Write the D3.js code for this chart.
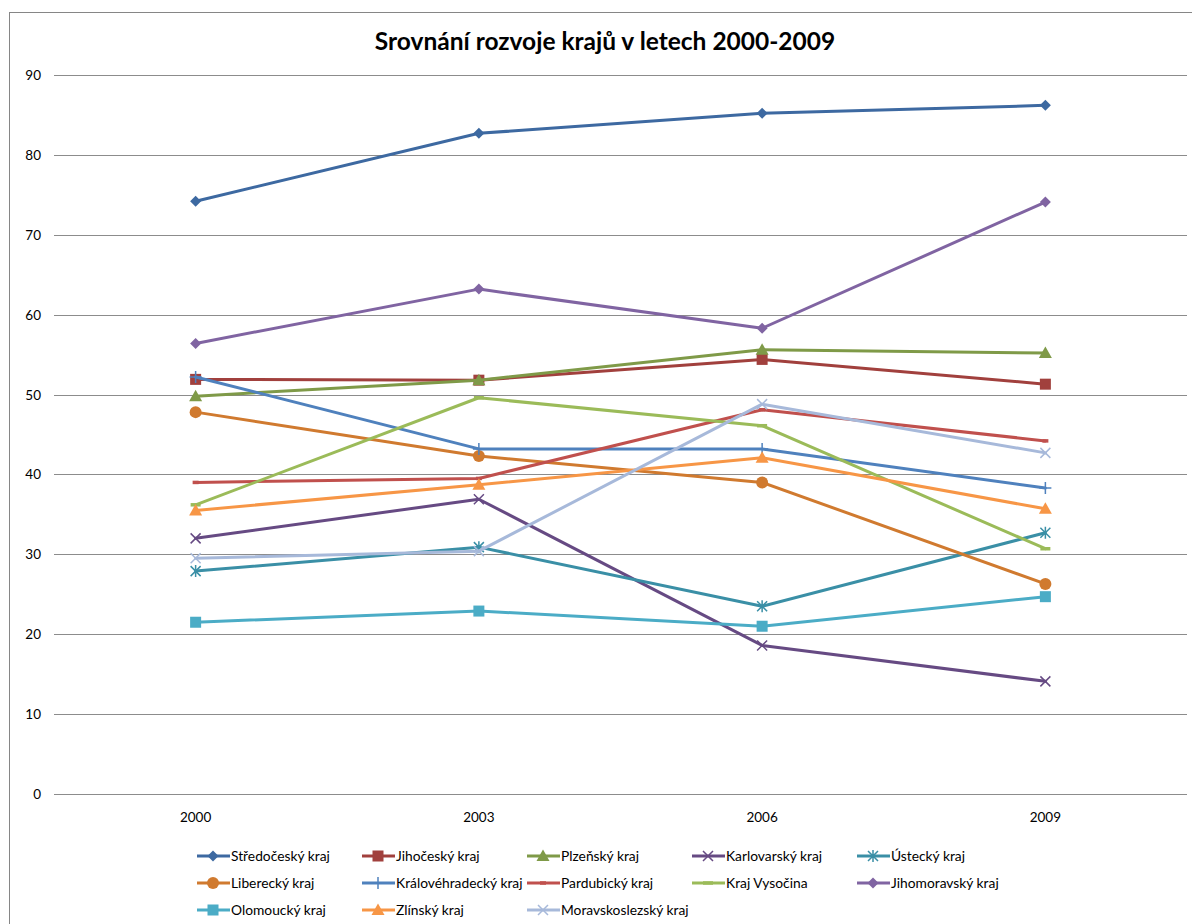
<!DOCTYPE html>
<html>
<head>
<meta charset="utf-8">
<script src="https://cdn.jsdelivr.net/npm/d3@7.9.0/dist/d3.min.js"></script>
<style>
  body { margin: 0; background: #fff; }
  svg { font-family: Lato, "Open Sans", sans-serif; }
</style>
</head>
<body>
<svg id="chart" width="1192" height="924"></svg>
<script>
const years = ['2000', '2003', '2006', '2009'];
const regions = ['Středočeský kraj', 'Jihočeský kraj', 'Plzeňský kraj', 'Karlovarský kraj', 'Ústecký kraj',
  'Liberecký kraj', 'Královéhradecký kraj', 'Pardubický kraj', 'Kraj Vysočina', 'Jihomoravský kraj',
  'Olomoucký kraj', 'Zlínský kraj', 'Moravskoslezský kraj'];
const stredocesky = [74.2, 82.7, 85.2, 86.2];
const jihocesky = [51.9, 51.8, 54.4, 51.3];
const plzensky = [49.8, 51.8, 55.6, 55.2];
const karlovarsky = [32.0, 36.9, 18.6, 14.1];
const ustecky = [27.9, 30.9, 23.5, 32.7];
const liberecky = [47.8, 42.3, 39.0, 26.3];
const kralovehradecky = [52.2, 43.2, 43.2, 38.3];
const pardubicky = [39.0, 39.5, 48.1, 44.2];
const vysocina = [36.2, 49.6, 46.1, 30.7];
const jihomoravsky = [56.4, 63.2, 58.3, 74.1];
const olomoucky = [21.5, 22.9, 21.0, 24.7];
const zlinsky = [35.5, 38.7, 42.1, 35.7];
const moravskoslezsky = [29.5, 30.4, 48.8, 42.7];
const yTicks = [0, 10, 20, 30, 40, 50, 60, 70, 80, 90];

const values = [stredocesky, jihocesky, plzensky, karlovarsky, ustecky, liberecky,
  kralovehradecky, pardubicky, vysocina, jihomoravsky, olomoucky, zlinsky, moravskoslezsky];
const colors = ['#3d69a1', '#a1403d', '#7f9a48', '#664a83', '#3a8fa6', '#d07a2f',
  '#4f81bd', '#c0504d', '#9bbb59', '#8064a2', '#4bacc6', '#f79646', '#a7b9da'];
const markers = ['diamond', 'square', 'triangle', 'x', 'star', 'circle',
  'plus', 'dash', 'longdash', 'diamond', 'square', 'triangle', 'x'];

const svg = d3.select('#chart');

// outer chart border
svg.append('rect').attr('x', 9.5).attr('y', 12.5).attr('width', 1200).attr('height', 1000)
  .attr('fill', 'none').attr('stroke', '#868686').attr('stroke-width', 1);

const x = d3.scaleBand().domain(years).range([54, 1187]);
const y = d3.scaleLinear().domain([0, 90]).range([794, 75]);

// gridlines
svg.append('g').selectAll('line').data(yTicks).join('line')
  .attr('x1', 54).attr('x2', 1187)
  .attr('y1', d => Math.round(y(d)) + 0.5).attr('y2', d => Math.round(y(d)) + 0.5)
  .attr('stroke', '#8c8c8c').attr('stroke-width', 1.2);

svg.append('g').selectAll('text').data(yTicks).join('text')
  .attr('x', 41).attr('y', d => y(d) + 5)
  .attr('text-anchor', 'end').attr('font-size', 13.5).attr('fill', '#000')
  .text(d => d);

svg.append('g').selectAll('text').data(years).join('text')
  .attr('x', d => x(d) + x.bandwidth() / 2).attr('y', 822)
  .attr('text-anchor', 'middle').attr('font-size', 13.5).attr('fill', '#000')
  .text(d => d);

svg.append('text').attr('x', 605).attr('y', 50).attr('text-anchor', 'middle')
  .attr('font-size', 24.5).attr('font-weight', 'bold').attr('fill', '#000')
  .text('Srovnání rozvoje krajů v letech 2000-2009');

function drawMarker(g, type, cx, cy, color) {
  if (type === 'diamond') {
    g.append('path').attr('d', `M${cx},${cy - 5.5}L${cx + 5.5},${cy}L${cx},${cy + 5.5}L${cx - 5.5},${cy}Z`).attr('fill', color);
  } else if (type === 'square') {
    g.append('rect').attr('x', cx - 5.5).attr('y', cy - 5.5).attr('width', 11).attr('height', 11).attr('fill', color);
  } else if (type === 'triangle') {
    g.append('path').attr('d', `M${cx},${cy - 6.5}L${cx + 6.5},${cy + 5}L${cx - 6.5},${cy + 5}Z`).attr('fill', color);
  } else if (type === 'circle') {
    g.append('circle').attr('cx', cx).attr('cy', cy).attr('r', 6).attr('fill', color);
  } else if (type === 'x') {
    g.append('path').attr('d', `M${cx - 5},${cy - 5}L${cx + 5},${cy + 5}M${cx - 5},${cy + 5}L${cx + 5},${cy - 5}`)
      .attr('stroke', color).attr('stroke-width', 1.5);
  } else if (type === 'star') {
    g.append('path').attr('d', `M${cx - 5},${cy - 5}L${cx + 5},${cy + 5}M${cx - 5},${cy + 5}L${cx + 5},${cy - 5}M${cx},${cy - 6}L${cx},${cy + 6}`)
      .attr('stroke', color).attr('stroke-width', 1.5);
  } else if (type === 'plus') {
    g.append('path').attr('d', `M${cx},${cy - 6}L${cx},${cy + 6}M${cx - 6},${cy}L${cx + 6},${cy}`)
      .attr('stroke', color).attr('stroke-width', 1.5);
  } else if (type === 'dash') {
    g.append('path').attr('d', `M${cx - 3},${cy}L${cx + 3},${cy}`).attr('stroke', color).attr('stroke-width', 3.5);
  } else if (type === 'longdash') {
    g.append('path').attr('d', `M${cx - 5},${cy}L${cx + 5},${cy}`).attr('stroke', color).attr('stroke-width', 3.5);
  }
}

const line = d3.line().x((d, i) => x(years[i]) + x.bandwidth() / 2).y(d => y(d));

values.forEach((vals, si) => {
  const g = svg.append('g');
  g.append('path').attr('d', line(vals)).attr('fill', 'none')
    .attr('stroke', colors[si]).attr('stroke-width', 3).attr('stroke-linejoin', 'round').attr('stroke-linecap', 'round');
  vals.forEach((v, i) => drawMarker(g, markers[si], x(years[i]) + x.bandwidth() / 2, y(v), colors[si]));
});

// legend
const legendRows = [856, 883, 910];
regions.forEach((name, i) => {
  const col = i % 5, row = Math.floor(i / 5);
  const lx = 197 + col * 165, ly = legendRows[row];
  const g = svg.append('g');
  g.append('line').attr('x1', lx).attr('x2', lx + 33).attr('y1', ly).attr('y2', ly)
    .attr('stroke', colors[i]).attr('stroke-width', 3);
  drawMarker(g, markers[i], lx + 16, ly, colors[i]);
  g.append('text').attr('x', lx + 34).attr('y', ly + 5).attr('font-size', 13.8).attr('fill', '#000').text(name);
});
</script>
</body>
</html>
